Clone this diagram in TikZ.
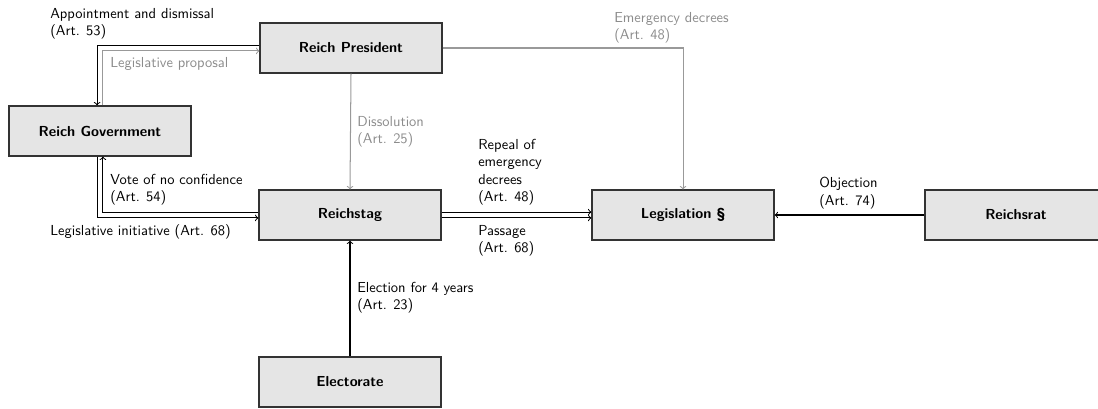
\documentclass[tikz,border=0pt]{standalone}
\usetikzlibrary{calc}
\begin{document}
\begin{tikzpicture}[x=0.69pt,y=-0.69pt,
  font=\sffamily,
  box/.style={draw=black!80,line width=0.8pt,fill=black!10,minimum width=125.6pt,minimum height=34.5pt,inner sep=0pt,font=\sffamily\bfseries},
  lbl/.style={anchor=north west,inner sep=0pt,align=left,font=\sffamily},
  glbl/.style={lbl,text=black!45},
  conn/.style={->,line width=0.7pt,black},
  gconn/.style={->,line width=0.7pt,black!40}]
\useasboundingbox (0,0) rectangle (1098,408);
\node[box] (pres) at (351,48) {Reich President};
\node[box] (gov) at (100,131) {Reich Government};
\node[box] (rt) at (350,215) {Reichstag};
\node[box] (leg) at (683,215) {Legislation \S};
\node[box] (rat) at (1016,215) {Reichsrat};
\node[box] (el) at (350,382) {Electorate};
% connectors
\draw[conn] ([yshift=2pt]pres.west) -| ([xshift=-2pt]gov.north);
\draw[gconn] ([xshift=2pt]gov.north) |- ([yshift=-2pt]pres.west);
\draw[gconn] (pres.east) -| (leg.north);
\draw[gconn] (pres.south) -- (rt.north);
\draw[conn] ([yshift=2pt]rt.west) -| ([xshift=2pt]gov.south);
\draw[conn] ([xshift=-2pt]gov.south) |- ([yshift=-2pt]rt.west);
\draw[conn] ([yshift=2pt]rt.east) -- ([yshift=2pt]leg.west);
\draw[conn] ([yshift=-2pt]rt.east) -- ([yshift=-2pt]leg.west);
\draw[conn] (rat.west) -- (leg.east);
\draw[conn] (el.north) -- (rt.south);
% labels
\node[lbl] (l1) at (50,8) {Appointment and dismissal\\(Art. 53)};
\node[glbl] (l2) at (110,57) {Legislative proposal};
\node[glbl] (l3) at (614,12) {Emergency decrees\\(Art. 48)};
\node[glbl] (l4) at (357,116) {Dissolution\\(Art. 25)};
\node[lbl] (l5) at (110,174) {Vote of no confidence\\(Art. 54)};
\node[lbl] (l6) at (50,224) {Legislative initiative (Art. 68)};
\node[lbl] (l7) at (478,139) {Repeal of\\emergency\\decrees\\(Art. 48)};
\node[lbl] (l8) at (478,225) {Passage\\(Art. 68)};
\node[lbl] (l9) at (819,177) {Objection\\(Art. 74)};
\node[lbl] (l10) at (357,282) {Election for 4 years\\(Art. 23)};
\end{tikzpicture}
\end{document}
